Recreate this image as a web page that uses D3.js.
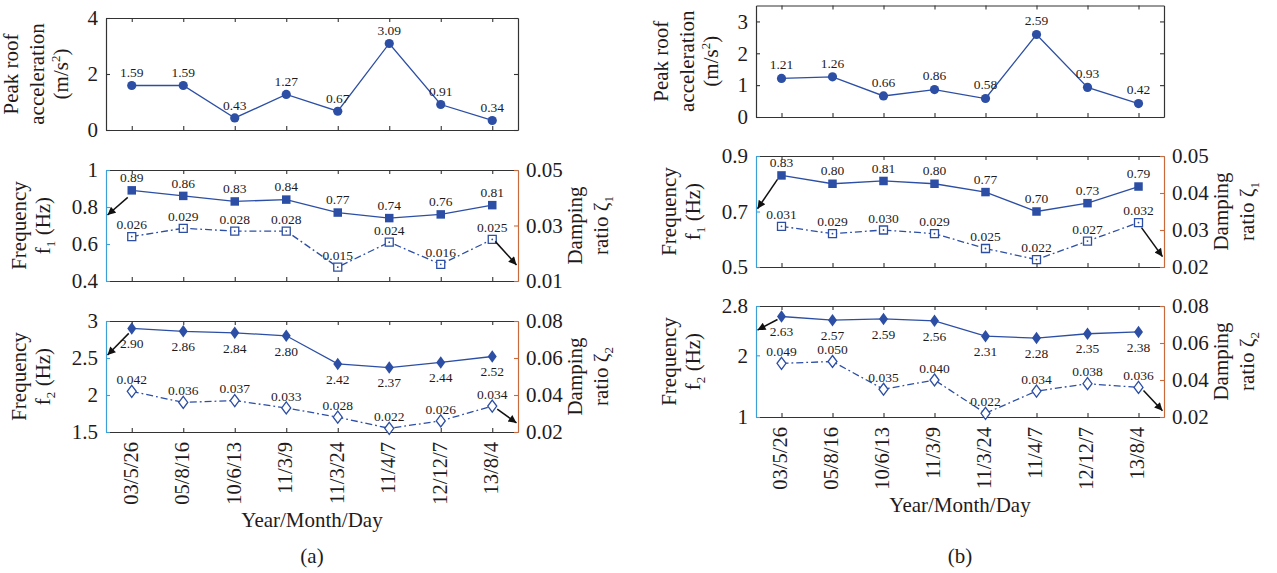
<!DOCTYPE html>
<html>
<head>
<meta charset="utf-8">
<script src="https://cdn.jsdelivr.net/npm/d3@7"></script>
<style>
  body { margin: 0; background: #fff; }
  svg, svg text, svg tspan { font-family: 'Liberation Serif', 'Times New Roman', Times, 'DejaVu Serif', serif !important; }
  svg text { fill: #1f1b1c; }
</style>
</head>
<body>
<script>
// ---- data ----
const dates = ["03/5/26", "05/8/16", "10/6/13", "11/3/9", "11/3/24", "11/4/7", "12/12/7", "13/8/4"];

// building (a)
const accelA = [1.59, 1.59, 0.43, 1.27, 0.67, 3.09, 0.91, 0.34];
const f1A    = [0.89, 0.86, 0.83, 0.84, 0.77, 0.74, 0.76, 0.81];
const zeta1A = [0.026, 0.029, 0.028, 0.028, 0.015, 0.024, 0.016, 0.025];
const f2A    = [2.90, 2.86, 2.84, 2.80, 2.42, 2.37, 2.44, 2.52];
const zeta2A = [0.042, 0.036, 0.037, 0.033, 0.028, 0.022, 0.026, 0.034];

// building (b)
const accelB = [1.21, 1.26, 0.66, 0.86, 0.58, 2.59, 0.93, 0.42];
const f1B    = [0.83, 0.80, 0.81, 0.80, 0.77, 0.70, 0.73, 0.79];
const zeta1B = [0.031, 0.029, 0.030, 0.029, 0.025, 0.022, 0.027, 0.032];
const f2B    = [2.63, 2.57, 2.59, 2.56, 2.31, 2.28, 2.35, 2.38];
const zeta2B = [0.049, 0.050, 0.035, 0.040, 0.022, 0.034, 0.038, 0.036];

// tick values
const accelTicksA = [0, 2, 4];
const f1TicksA    = [0.4, 0.6, 0.8, 1];
const zeta1TicksA = [0.01, 0.03, 0.05];
const f2TicksA    = [1.5, 2, 2.5, 3];
const zeta2TicksA = [0.02, 0.04, 0.06, 0.08];
const accelTicksB = [0, 1, 2, 3];
const f1TicksB    = [0.5, 0.7, 0.9];
const zeta1TicksB = [0.02, 0.03, 0.04, 0.05];
const f2TicksB    = [1, 2, 2.8];
const zeta2TicksB = [0.02, 0.04, 0.06, 0.08];

const fmt = d => String(d);
const SERIF = "'Liberation Serif', 'Times New Roman', serif";

// ---- drawing ----
const W = 1277, H = 573;
const svg = d3.select("body").append("svg").attr("width", W).attr("height", H)
  .attr("font-family", SERIF);

const defs = svg.append("defs");
defs.append("marker")
  .attr("id", "arrowhead").attr("viewBox", "0 0 10 10")
  .attr("refX", 10).attr("refY", 5)
  .attr("markerWidth", 10).attr("markerHeight", 8)
  .attr("markerUnits", "userSpaceOnUse")
  .attr("orient", "auto")
  .append("path").attr("d", "M0,0 L10,5 L0,10 Z").attr("fill", "#111");

const BLUE = "#2c4ea4";
const LEFT_C = "#3d9fd6";
const RIGHT_C = "#c96a3c";
const FRAME_C = "#333";

function styleAxis(g, color, fontSize) {
  g.attr("font-family", SERIF);
  g.select(".domain").attr("stroke", color).attr("stroke-width", 1.2);
  g.selectAll(".tick line").attr("stroke", color).attr("stroke-width", 1.1);
  g.selectAll(".tick text").attr("font-size", fontSize || 21).attr("fill", "#1f1b1c")
    .attr("font-family", SERIF);
}

const squarePath = s => `M${-s/2},${-s/2}h${s}v${s}h${-s}Z`;
const diamondPath = (w, h) => `M0,${-h/2}L${w/2},0L0,${h/2}L${-w/2},0Z`;

function rotatedLines(g, cx, cy, lines, size) {
  // each line: array of [text, kind] pieces; kind '' | 'sub' | 'sup'
  lines.forEach(l => {
    const t = g.append("text")
      .attr("transform", `translate(${cx + l.dx},${cy}) rotate(-90)`)
      .attr("text-anchor", "middle")
      .attr("font-family", SERIF)
      .attr("font-size", size);
    let shift = 0;
    l.parts.forEach(([txt, kind]) => {
      const ts = t.append("tspan").text(txt);
      let target = 0;
      if (kind === "sub") { ts.attr("font-size", size * 0.62); target = 5; }
      if (kind === "sup") { ts.attr("font-size", size * 0.62); target = -8; }
      if (target !== shift) { ts.attr("dy", target - shift); shift = target; }
    });
  });
}

function panel(cfg) {
  const { x0, x1, y0, y1 } = cfg;
  const x = d3.scalePoint().domain(dates).range([x0, x1]).padding(0.5);
  const yL = d3.scaleLinear().domain(cfg.leftDomain).range([y1, y0]);
  const yR = cfg.rightDomain ? d3.scaleLinear().domain(cfg.rightDomain).range([y1, y0]) : null;
  const g = svg.append("g");

  // frame: top/bottom with category ticks
  g.append("g").attr("transform", `translate(0,${y1})`)
    .call(d3.axisBottom(x).tickSize(-4).tickSizeOuter(0).tickFormat(""))
    .call(a => styleAxis(a, FRAME_C));
  g.append("g").attr("transform", `translate(0,${y0})`)
    .call(d3.axisTop(x).tickSize(-4).tickSizeOuter(0).tickFormat(""))
    .call(a => styleAxis(a, FRAME_C));

  const lc = yR ? LEFT_C : FRAME_C;
  const rc = yR ? RIGHT_C : FRAME_C;
  g.append("g").attr("transform", `translate(${x0},0)`)
    .call(d3.axisLeft(yL).tickValues(cfg.leftTicks).tickSize(-4).tickSizeOuter(0).tickPadding(8).tickFormat(fmt))
    .call(a => styleAxis(a, lc));
  if (yR) {
    g.append("g").attr("transform", `translate(${x1},0)`)
      .call(d3.axisRight(yR).tickValues(cfg.rightTicks).tickSize(-4).tickSizeOuter(0).tickPadding(8).tickFormat(fmt))
      .call(a => styleAxis(a, rc));
  } else {
    g.append("g").attr("transform", `translate(${x1},0)`)
      .call(d3.axisRight(yL).tickValues(cfg.leftTicks).tickSize(-4).tickSizeOuter(0).tickFormat(""))
      .call(a => styleAxis(a, rc));
  }

  // secondary (damping) series: dash-dot line with open markers
  if (yR) {
    const line2 = d3.line().x((d, i) => x(dates[i])).y(d => yR(d));
    g.append("path").datum(cfg.right).attr("d", line2)
      .attr("fill", "none").attr("stroke", BLUE).attr("stroke-width", 1.3)
      .attr("stroke-dasharray", "7,3,1.8,3");
    const m2 = g.selectAll(".m2").data(cfg.right).enter().append("g")
      .attr("transform", (d, i) => `translate(${x(dates[i])},${yR(d)})`);
    if (cfg.openShape === "square") {
      m2.append("path").attr("d", squarePath(8)).attr("fill", "#fff")
        .attr("stroke", BLUE).attr("stroke-width", 1.3);
      m2.append("circle").attr("r", 0.9).attr("fill", BLUE);
    } else {
      m2.append("path").attr("d", diamondPath(9, 12)).attr("fill", "#fff")
        .attr("stroke", BLUE).attr("stroke-width", 1.3);
    }
    g.selectAll(".l2").data(cfg.right).enter().append("text")
      .attr("x", (d, i) => x(dates[i]))
      .attr("y", d => yR(d) + cfg.rightLabelDy)
      .attr("dy", "0.35em").attr("text-anchor", "middle")
      .attr("font-family", SERIF)
      .attr("font-size", 13.5).attr("fill", "#2a2a2a")
      .text(d => d.toFixed(3));
  }

  // primary series: solid line with filled markers
  const line1 = d3.line().x((d, i) => x(dates[i])).y(d => yL(d));
  g.append("path").datum(cfg.left).attr("d", line1)
    .attr("fill", "none").attr("stroke", BLUE).attr("stroke-width", 1.3);
  const m1 = g.selectAll(".m1").data(cfg.left).enter().append("g")
    .attr("transform", (d, i) => `translate(${x(dates[i])},${yL(d)})`);
  if (cfg.filledShape === "circle") m1.append("circle").attr("r", 4.6).attr("fill", BLUE);
  if (cfg.filledShape === "square") m1.append("path").attr("d", squarePath(8.5)).attr("fill", BLUE);
  if (cfg.filledShape === "diamond") m1.append("path").attr("d", diamondPath(9, 12.5)).attr("fill", BLUE);
  g.selectAll(".l1").data(cfg.left).enter().append("text")
    .attr("x", (d, i) => x(dates[i]))
    .attr("y", d => yL(d) + cfg.leftLabelDy)
    .attr("dy", "0.35em").attr("text-anchor", "middle")
    .attr("font-family", SERIF)
    .attr("font-size", 13.5).attr("fill", "#2a2a2a")
    .text(d => d.toFixed(2));

  // pointer arrows towards the matching axis
  (cfg.arrows || []).forEach(a => {
    const series = a.side === "left" ? cfg.left : cfg.right;
    const ys = a.side === "left" ? yL : yR;
    const px = x(dates[a.index]), py = ys(series[a.index]);
    const hx = a.side === "left" ? x0 + 1.5 : x1 - 1.5;
    g.append("line")
      .attr("x1", px + a.tail[0]).attr("y1", py + a.tail[1])
      .attr("x2", hx).attr("y2", ys(a.to))
      .attr("stroke", "#111").attr("stroke-width", 1.5)
      .attr("marker-end", "url(#arrowhead)");
  });

  // axis titles
  const cy = (y0 + y1) / 2;
  rotatedLines(g, x0, cy, cfg.leftTitle, 21);
  if (cfg.rightTitle) rotatedLines(g, x1, cy, cfg.rightTitle, 21);

  // rotated date labels under the lowest panel
  if (cfg.dateLabels) {
    g.selectAll(".xl").data(dates).enter().append("text")
      .attr("transform", d => `translate(${x(d)},${y1 + 10}) rotate(-90)`)
      .attr("text-anchor", "end").attr("dy", "0.28em")
      .attr("font-family", SERIF)
      .attr("font-size", 20.5)
      .text(d => d);
    g.append("text").attr("x", (x0 + x1) / 2).attr("y", y1 + 88).attr("dy", "0.35em")
      .attr("font-family", SERIF)
      .attr("text-anchor", "middle").attr("font-size", 21).text("Year/Month/Day");
  }
}

const accelTitle = [
  { dx: -88, parts: [["Peak roof", ""]] },
  { dx: -62, parts: [["acceleration", ""]] },
  { dx: -38, parts: [["(m/s", ""], ["2", "sup"], [")", ""]] }
];
const freqTitle = n => [
  { dx: -80, parts: [["Frequency", ""]] },
  { dx: -56, parts: [["f", ""], [n, "sub"], [" (Hz)", ""]] }
];
const dampTitle = n => [
  { dx: 64, parts: [["Damping", ""]] },
  { dx: 90, parts: [["ratio ζ", ""], [n, "sub"]] }
];

const colA = { x0: 106, x1: 518 };
const colB = { x0: 756, x1: 1164 };

// (a)
panel({ ...colA, y0: 18, y1: 130, leftDomain: [0, 4], leftTicks: accelTicksA,
  left: accelA, filledShape: "circle", leftLabelDy: -13, leftTitle: accelTitle });
panel({ ...colA, y0: 170, y1: 281, leftDomain: [0.4, 1], leftTicks: f1TicksA,
  rightDomain: [0.01, 0.05], rightTicks: zeta1TicksA,
  left: f1A, right: zeta1A, filledShape: "square", openShape: "square",
  leftLabelDy: -13, rightLabelDy: -12,
  leftTitle: freqTitle("1"), rightTitle: dampTitle("1"),
  arrows: [{ side: "left", index: 0, to: 0.757, tail: [-4, 7] },
           { side: "right", index: 7, to: 0.0158, tail: [3, 2] }] });
panel({ ...colA, y0: 321, y1: 432, leftDomain: [1.5, 3], leftTicks: f2TicksA,
  rightDomain: [0.02, 0.08], rightTicks: zeta2TicksA,
  left: f2A, right: zeta2A, filledShape: "diamond", openShape: "diamond",
  leftLabelDy: 15, rightLabelDy: -12,
  leftTitle: freqTitle("2"), rightTitle: dampTitle("2"),
  arrows: [{ side: "left", index: 0, to: 2.54, tail: [-3, 5] },
           { side: "right", index: 7, to: 0.0249, tail: [5, 3] }],
  dateLabels: true });

// (b)
panel({ ...colB, y0: 5.5, y1: 117, leftDomain: [0, 3.5], leftTicks: accelTicksB,
  left: accelB, filledShape: "circle", leftLabelDy: -14, leftTitle: accelTitle });
panel({ ...colB, y0: 156, y1: 267, leftDomain: [0.5, 0.9], leftTicks: f1TicksB,
  rightDomain: [0.02, 0.05], rightTicks: zeta1TicksB,
  left: f1B, right: zeta1B, filledShape: "square", openShape: "square",
  leftLabelDy: -13, rightLabelDy: -12,
  leftTitle: freqTitle("1"), rightTitle: dampTitle("1"),
  arrows: [{ side: "left", index: 0, to: 0.71, tail: [-4, 4] },
           { side: "right", index: 7, to: 0.0228, tail: [3, 5] }] });
panel({ ...colB, y0: 306, y1: 417, leftDomain: [1, 2.8], leftTicks: f2TicksB,
  rightDomain: [0.02, 0.08], rightTicks: zeta2TicksB,
  left: f2B, right: zeta2B, filledShape: "diamond", openShape: "diamond",
  leftLabelDy: 15, rightLabelDy: -12,
  leftTitle: freqTitle("2"), rightTitle: dampTitle("2"),
  arrows: [{ side: "left", index: 0, to: 2.41, tail: [-4, 3] },
           { side: "right", index: 7, to: 0.0234, tail: [5, 3] }],
  dateLabels: true });

// captions
svg.append("text").attr("x", (colA.x0 + colA.x1) / 2).attr("y", 556).attr("dy", "0.35em")
  .attr("font-family", SERIF)
  .attr("text-anchor", "middle").attr("font-size", 21).text("(a)");
svg.append("text").attr("x", (colB.x0 + colB.x1) / 2).attr("y", 556).attr("dy", "0.35em")
  .attr("font-family", SERIF)
  .attr("text-anchor", "middle").attr("font-size", 21).text("(b)");
</script>
</body>
</html>
